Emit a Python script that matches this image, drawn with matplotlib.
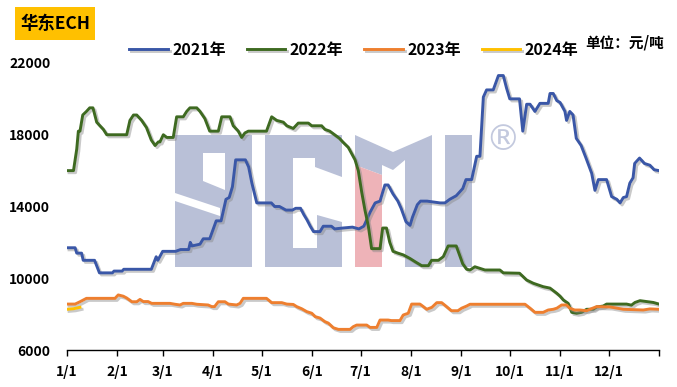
import matplotlib
matplotlib.use('Agg')
import matplotlib.pyplot as plt
import matplotlib.patheffects as pe
from matplotlib.patches import Polygon, Rectangle

plt.rcParams['font.family'] = ['Noto Sans CJK SC', 'DejaVu Sans']
plt.rcParams['font.weight'] = 'bold'

# день года (0 = 1/1) и цена, юань/т
d2021 = [0, 5, 6, 9, 10, 17, 20, 28, 29, 34, 35, 52, 55, 56, 59, 67, 70, 75, 76, 77, 82, 84, 88, 90,
         92, 95, 98, 100, 102, 104, 110, 112, 114, 117, 126, 128, 131, 135, 139, 141, 144, 146, 148,
         150, 152, 156, 158, 163, 165, 170, 176, 180, 183, 185, 187, 190, 193, 196, 198, 201, 204,
         206, 209, 211.5, 213, 216, 218, 222, 230, 233, 236, 240, 244, 246, 249.5, 252.6, 254.6,
         256.7, 258.7, 262.8, 266, 269, 271, 273, 279, 281, 283.4, 285.5, 288.5, 291.6, 296.7,
         297.8, 299.8, 302, 304, 307, 308, 310, 312, 314, 317, 320, 323.5, 325.5, 327.6, 332.7,
         335.8, 339, 341, 343, 345, 347, 349, 350, 353, 356, 359.4, 362, 365]
v2021 = [11700, 11700, 11400, 11400, 11000, 11000, 10300, 10300, 10400, 10400, 10500, 10500, 11200,
         11000, 11500, 11500, 11600, 11600, 12000, 11800, 11900, 12200, 12200, 12700, 13200, 13200,
         14400, 14500, 15100, 16600, 16600, 16200, 15300, 14200, 14200, 14000, 14000, 13800, 13800,
         13900, 13900, 13550, 13250, 12900, 12600, 12600, 12900, 12900, 12750, 12800, 12850, 12750,
         12900, 13300, 13700, 14200, 14300, 15200, 15200, 14700, 14300, 13900, 13150, 12950, 13400,
         14100, 14300, 14300, 14200, 14200, 14400, 14600, 15000, 15500, 15500, 16800, 16800, 20100,
         20500, 20500, 21300, 21300, 20600, 20000, 20000, 18200, 19700, 19700, 19300, 19750, 19750,
         20300, 20300, 19900, 19800, 19300, 18800, 19300, 19100, 17800, 17400, 16700, 15850, 14900,
         15500, 15500, 14550, 14400, 14200, 14500, 14550, 15300, 15600, 16400, 16700, 16400, 16300,
         16050, 16000]

d2022 = [0, 4, 6, 7, 8, 9.7, 12, 14, 16, 18.3, 20.3, 22.4, 24.5, 36.8, 38.8, 41, 43, 46, 49, 52,
         54.3, 56.3, 57.3, 59.4, 61.5, 65.5, 67.6, 71.7, 73.8, 75.8, 80, 82, 85, 88, 93.3, 95.4,
         100.5, 102.5, 105.6, 107.7, 109.7, 111.8, 123, 126.2, 129.3, 133.4, 135.5, 139.5, 142.6,
         148.8, 150.9, 157, 159, 162, 165, 168, 170, 173.4, 175.5, 177.6, 179.6, 181.7, 183.7,
         185.8, 187.8, 193, 194.6, 197, 199, 201, 204, 207.4, 211.5, 215, 218.7, 222.8, 224.8, 229,
         232, 235, 240, 242, 244, 246.4, 248.5, 251.5, 254.6, 257.7, 266.9, 269, 279, 283.4, 287.5,
         293.6, 297.8, 302, 304, 306, 309, 311.2, 314.2, 317.3, 320.4, 324.5, 326.6, 330.6, 332.7,
         345, 348, 350.2, 353.3, 357.4, 361.5, 365]
v2022 = [16000, 16000, 17200, 18200, 18200, 19100, 19300, 19500, 19500, 18700, 18500, 18300, 18000,
         18000, 18800, 19100, 19100, 18800, 18400, 17700, 17400, 17600, 17600, 18000, 17850, 17850,
         19000, 19000, 19300, 19500, 19500, 19300, 18900, 18200, 18200, 19000, 19000, 18500, 18200,
         17850, 18100, 18200, 18200, 19000, 18800, 18700, 18500, 18350, 18650, 18650, 18500, 18500,
         18300, 18200, 18000, 17800, 17600, 17300, 16950, 16600, 16000, 14800, 13800, 12900, 11650,
         11650, 12800, 12800, 12000, 11500, 11400, 11300, 11100, 10900, 10700, 10700, 11000, 11000,
         11200, 11800, 11800, 11300, 10800, 10500, 10460, 10640, 10550, 10460, 10460, 10300, 10280,
         9900, 9720, 9530, 9450, 9160, 9000, 8790, 8600, 8100, 8050, 8100, 8270, 8270, 8400, 8450,
         8560, 8560, 8500, 8650, 8750, 8700, 8650, 8560]

d2023 = [0, 5, 8, 12, 29.6, 31.6, 34.7, 36.8, 40, 43, 45, 47, 50, 52.2, 63.5, 66.6, 69.7, 71.7, 77,
         80, 87, 89.2, 91, 93.3, 97.4, 99.5, 104.6, 106.7, 108.7, 119, 123, 126.2, 132.4, 135.5,
         139.5, 141.6, 144.7, 147.8, 150.9, 153, 156, 159, 161.1, 164.2, 167.3, 174.5, 176.5, 178.6,
         184.8, 186.8, 191, 193, 198, 200, 205.3, 207.3, 210.4, 212.5, 217.6, 219.7, 221.8, 225,
         228, 231, 234, 237, 241, 243.3, 246.4, 248.5, 282.4, 285.5, 288.5, 293.6, 296.7, 299.8,
         302, 305, 308, 310, 313, 316.3, 320.4, 322.4, 326.6, 334.8, 343, 355.3, 359.4, 365]
v2023 = [8560, 8560, 8690, 8880, 8880, 9070, 9000, 8900, 8690, 8690, 8820, 8700, 8700, 8600, 8600,
         8550, 8510, 8600, 8600, 8550, 8510, 8420, 8420, 8690, 8690, 8560, 8510, 8600, 8880, 8880,
         8880, 8640, 8640, 8560, 8540, 8420, 8300, 8140, 8050, 7860, 7780, 7580, 7500, 7240, 7150,
         7150, 7300, 7390, 7390, 7260, 7260, 7670, 7670, 7640, 7640, 7950, 8050, 8560, 8560, 8420,
         8270, 8380, 8640, 8640, 8420, 8190, 8190, 8330, 8450, 8550, 8550, 8330, 8100, 8100, 8230,
         8270, 8330, 8510, 8510, 8330, 8230, 8230, 8190, 8270, 8420, 8400, 8270, 8230, 8290, 8270]

d2024 = [0, 4, 8]
v2024 = [8270, 8300, 8380]

month_days = [0, 31, 59, 90, 120, 151, 181, 212, 243, 273, 304, 334, 365]
month_labels = ['1/1', '2/1', '3/1', '4/1', '5/1', '6/1', '7/1', '8/1', '9/1', '10/1', '11/1', '12/1', '']
yticks = [6000, 10000, 14000, 18000, 22000]

W, H = 677, 387
fig = plt.figure(figsize=(W / 100, H / 100), dpi=100)
ax = fig.add_axes([67 / W, 1 - 350 / H, 592 / W, 287 / H])


def px(pts):
    # пиксели картинки -> координаты фигуры
    return [(x / W, 1 - y / H) for x, y in pts]


# водяной знак SCMI
wm = '#B9C0D7'
shapes = [
    [(175, 135), (252, 135), (252, 267), (175, 267)],
    [(265, 135), (342, 135), (342, 177), (315, 167), (315, 158), (293, 158), (293, 248),
     (317, 248), (317, 215), (342, 222), (342, 267), (265, 267)],
    [(355, 135), (393, 152), (432, 135), (432, 267), (405, 267), (405, 160), (393, 170),
     (382, 165), (382, 175), (355, 165)],
    [(445, 135), (472, 135), (472, 267), (445, 267)],
]
for s in shapes:
    ax.add_patch(Polygon(px(s), closed=True, transform=fig.transFigure, facecolor=wm,
                         edgecolor='none', zorder=0.5, clip_on=False))
for s in [[(203, 153), (225, 153), (225, 190), (203, 181)],
          [(175, 193), (175, 201), (220, 216), (220, 208)]]:
    ax.add_patch(Polygon(px(s), closed=True, transform=fig.transFigure, facecolor='white',
                         edgecolor='none', zorder=0.6, clip_on=False))
ax.add_patch(Polygon(px([(355, 165), (382, 175), (382, 267), (355, 267)]), closed=True,
                     transform=fig.transFigure, facecolor='#EEB3B8', edgecolor='none',
                     zorder=0.6, clip_on=False))
fig.text(503 / W, 1 - 140 / H, '®', fontsize=25, fontweight='normal', color='#C3C9DE',
         ha='center', va='center', family='DejaVu Sans')

shadow = [pe.SimpleLineShadow(offset=(1.5, -1.5), shadow_color='#888888', alpha=0.45),
          pe.Normal()]
ax.plot(d2021, v2021, color='#3A57A7', lw=2.1, label='2021年', path_effects=shadow, zorder=3)
ax.plot(d2022, v2022, color='#3E6A21', lw=2.1, label='2022年', path_effects=shadow, zorder=3)
ax.plot(d2023, v2023, color='#EE7F2F', lw=2.1, label='2023年', path_effects=shadow, zorder=3)
ax.plot(d2024, v2024, color='#FFC000', lw=2.1, label='2024年', path_effects=shadow, zorder=3)

ax.set_xlim(0, 365)
ax.set_ylim(6000, 22000)
ax.set_yticks(yticks)
ax.set_xticks(month_days)
ax.set_xticklabels(month_labels)
ax.tick_params(axis='y', length=0, pad=12, labelsize=10)
ax.tick_params(axis='x', length=4, width=1, direction='out', pad=7, labelsize=10)
for lab in ax.get_xticklabels() + ax.get_yticklabels():
    lab.set_fontweight('bold')
for side in ['left', 'right', 'top']:
    ax.spines[side].set_visible(False)
ax.spines['bottom'].set_color('black')
ax.spines['bottom'].set_linewidth(1)

fig.legend(loc='center', bbox_to_anchor=(354 / W, 1 - 50 / H), ncol=4, frameon=False,
           prop={'size': 11.5, 'weight': 'bold'}, handlelength=2.4, handletextpad=0.3,
           columnspacing=1.3)

# заголовок в жёлтой плашке
fig.add_artist(Rectangle((15 / W, 1 - 40 / H), 80 / W, 33 / H, transform=fig.transFigure,
                         facecolor='#FFC000', edgecolor='none'))
fig.text(55 / W, 1 - 24 / H, '华东ECH', fontsize=12.5, fontweight='bold', ha='center', va='center')
fig.text(625 / W, 1 - 42 / H, '单位：元/吨', fontsize=10.5, fontweight='bold', ha='center', va='center')

fig.savefig('out.png', dpi=100)
